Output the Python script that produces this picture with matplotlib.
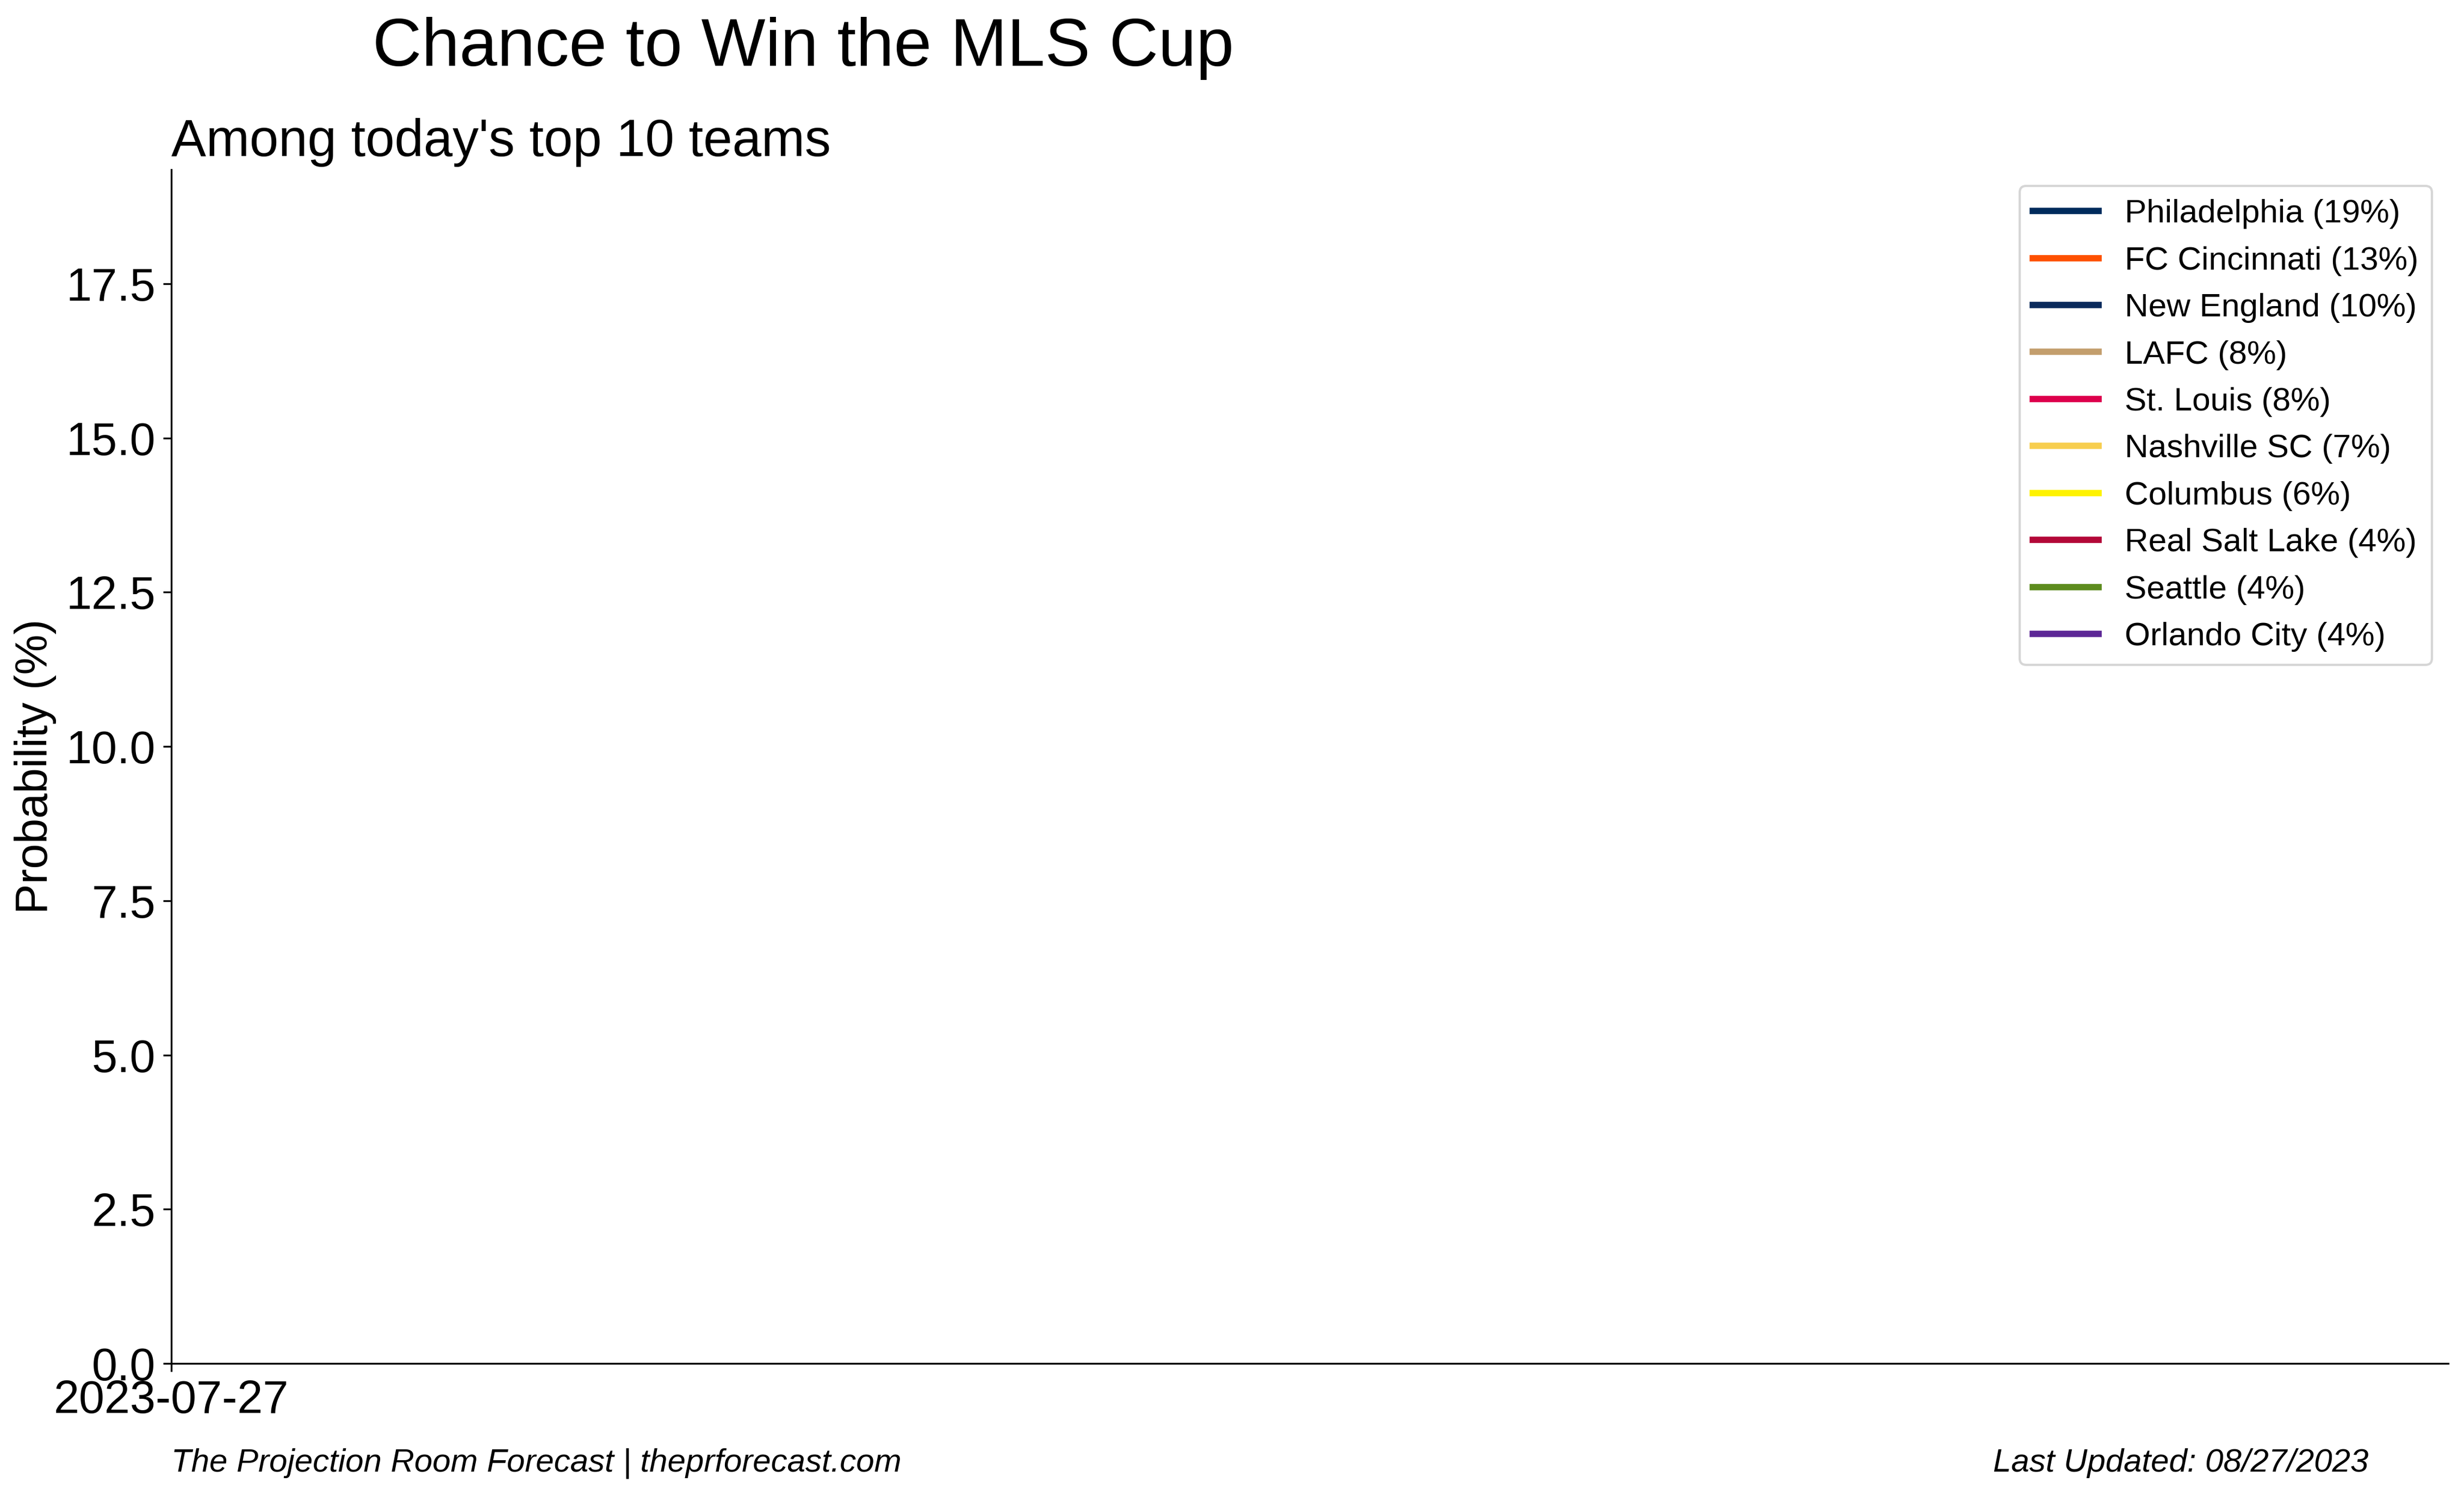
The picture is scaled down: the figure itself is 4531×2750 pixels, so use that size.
import matplotlib
matplotlib.use("Agg")
import matplotlib.pyplot as plt
import matplotlib.dates as mdates
import datetime as dt

plt.rcParams['font.family'] = ['Liberation Sans', 'DejaVu Sans']

teams = ["Philadelphia", "FC Cincinnati", "New England", "LAFC", "St. Louis",
         "Nashville SC", "Columbus", "Real Salt Lake", "Seattle", "Orlando City"]
current_pct = [19, 13, 10, 8, 8, 7, 6, 4, 4, 4]
colors = ["#002B5C", "#FE5000", "#0A2A5C", "#C39E6D", "#DD004C",
          "#F7CE4F", "#FEF200", "#B30838", "#5D8C1E", "#5C2796"]
dates = ["2023-07-27"]
# single observed point per team (values approx.)
series = [[18.6], [12.8], [10.2], [8.2], [7.9], [7.1], [6.3], [4.2], [4.0], [3.6]]
start_date = "2023-07-27"
end_date = "2023-08-27"
last_updated = "08/27/2023"

fig = plt.figure(figsize=(4531/300, 2750/300), dpi=300)
ax = fig.add_axes([315/4531, 1 - 2508/2750, (4502-315)/4531, (2508-312)/2750])

xd = [dt.datetime.strptime(d, "%Y-%m-%d") for d in dates]
for name, pct, col, vals in zip(teams, current_pct, colors, series):
    ax.plot(xd, vals, color=col, linewidth=2.8, label=f"{name} ({pct}%)")

ax.set_xlim(dt.datetime.strptime(start_date, "%Y-%m-%d"),
            dt.datetime.strptime(end_date, "%Y-%m-%d"))
ax.set_ylim(0, 19.35)
ax.set_xticks(xd)
ax.xaxis.set_major_formatter(mdates.DateFormatter("%Y-%m-%d"))
ax.tick_params(axis='both', labelsize=20.3)
ax.set_yticks([0, 2.5, 5, 7.5, 10, 12.5, 15, 17.5])
ax.set_ylabel("Probability (%)", fontsize=20)
ax.spines['top'].set_visible(False)
ax.spines['right'].set_visible(False)

ax.set_title("Among today's top 10 teams", loc='left', fontsize=23)
fig.text(0.326, 0.956, "Chance to Win the MLS Cup", fontsize=30,
         ha='center', va='baseline')

leg = ax.legend(loc='upper right', fontsize=14.5, frameon=True, labelspacing=0.52)

fig.text(315/4531, 1 - 2707/2750, "The Projection Room Forecast | theprforecast.com",
         fontsize=14.4, style='italic', ha='left', va='baseline')
fig.text(4355/4531, 1 - 2707/2750, f"Last Updated: {last_updated}",
         fontsize=14.4, style='italic', ha='right', va='baseline')

fig.savefig("out.png", dpi=300)
